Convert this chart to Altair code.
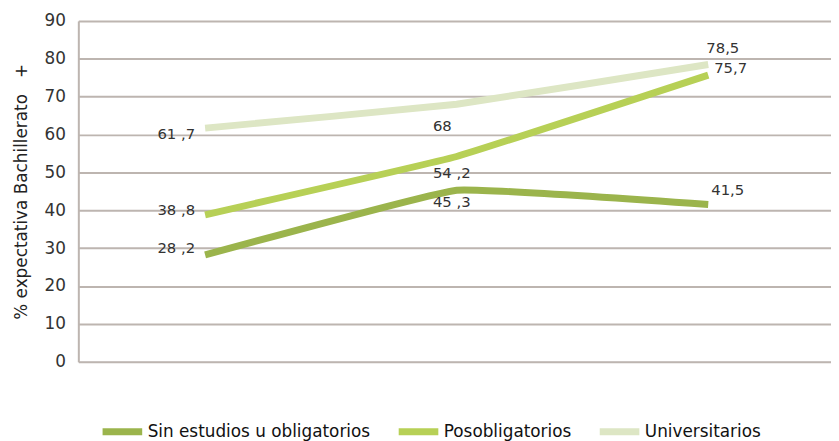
import altair as alt
import pandas as pd

# ---- data ----
categories = ["A", "B", "C"]
series_names = ["Sin estudios u obligatorios", "Posobligatorios", "Universitarios"]
sin_estudios = [28.2, 45.3, 41.5]
posobligatorios = [38.8, 54.2, 75.7]
universitarios = [61.7, 68.0, 78.5]
label_sin = ["28 ,2", "45 ,3", "41,5"]
label_pos = ["38 ,8", "54 ,2", "75,7"]
label_uni = ["61 ,7", "68", "78,5"]
y_ticks = [0, 10, 20, 30, 40, 50, 60, 70, 80, 90]

colors = ["#9bb44c", "#b7d056", "#dde6c4"]

rows = []
for name, vals, labs in [
    (series_names[0], sin_estudios, label_sin),
    (series_names[1], posobligatorios, label_pos),
    (series_names[2], universitarios, label_uni),
]:
    for i, (c, v, l) in enumerate(zip(categories, vals, labs)):
        rows.append({"cat": c, "serie": name, "valor": v, "etiqueta": l, "idx": i})
df = pd.DataFrame(rows)

# label placement (style, not data): (align, dx, dy) per series/category index
label_style = {
    (series_names[2], 0): ("right", -10, 6),
    (series_names[1], 0): ("right", -10, -5),
    (series_names[0], 0): ("right", -10, -7),
    (series_names[2], 1): ("left", -24, 22),
    (series_names[1], 1): ("left", -24, 17),
    (series_names[0], 1): ("left", -24, 12),
    (series_names[2], 2): ("left", -2, -17),
    (series_names[1], 2): ("left", 6, -7),
    (series_names[0], 2): ("left", 3, -15),
}

FONT = "DejaVu Sans"
x_scale = alt.Scale(domain=[-0.504, 2.488], nice=False, zero=False)
y_scale = alt.Scale(domain=[0, 90], nice=False, zero=True)
y_axis = alt.Axis(values=y_ticks, tickCount=10, grid=True, ticks=False, labelOverlap=False,
                  domain=True, domainColor="#bdb5b0", domainWidth=2,
                  gridColor="#bdb5b0", gridWidth=2,
                  labelFont=FONT, labelFontSize=17,
                  labelColor="#333333", labelPadding=13,
                  titleFont=FONT, titleFontSize=17,
                  titleFontWeight="normal", titleColor="#222222",
                  titlePadding=14)
y_title = "% expectativa Bachillerato\u00a0\u00a0\u00a0+"

x_enc = alt.X("idx:Q", title=None, scale=x_scale, axis=None)
y_enc = alt.Y("valor:Q", title=y_title, scale=y_scale, axis=y_axis)

lines = alt.Chart(df).mark_line(strokeWidth=7, interpolate="cardinal", tension=0.75).encode(
    x=x_enc,
    y=y_enc,
    color=alt.Color("serie:N", sort=series_names,
                    scale=alt.Scale(domain=series_names, range=colors),
                    legend=alt.Legend(title=None, orient="none", legendX=21, legendY=391,
                                      direction="horizontal", columns=3,
                                      symbolType="stroke", symbolStrokeWidth=7,
                                      symbolSize=1600, labelOffset=2,
                                      columnPadding=14,
                                      labelFont=FONT, labelFontSize=17,
                                      labelColor="#111111", labelLimit=400)),
    order=alt.Order("idx:Q"),
)

layers = [lines]
for (serie, i), (align, dx, dy) in label_style.items():
    t = alt.Chart(df).transform_filter(
        (alt.datum.serie == serie) & (alt.datum.idx == i)
    ).mark_text(align=align, baseline="middle", dx=dx, dy=dy,
                font=FONT, fontSize=15, color="#333333").encode(
        x=x_enc,
        y=y_enc,
        text="etiqueta:N",
    )
    layers.append(t)

chart = alt.layer(*layers).properties(
    width=760, height=344,
    autosize=alt.AutoSizeParams(type="none"),
    padding={"left": 71, "top": 11, "right": 0, "bottom": 78},
).configure_view(stroke=None).configure(background="white")

chart.save("out.html", embed_options={"renderer": "svg", "actions": False})
